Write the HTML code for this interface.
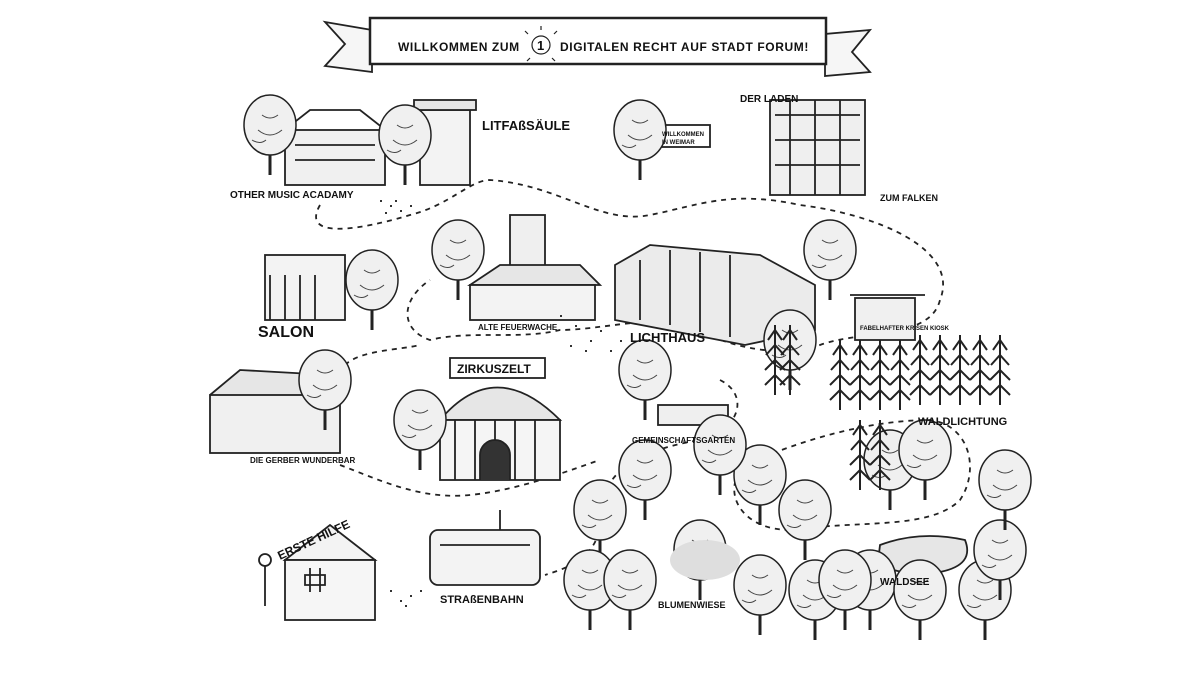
<!DOCTYPE html>
<html><head><meta charset="utf-8"><style>
html,body{margin:0;padding:0;background:#fff;}
svg{display:block;}
text{font-family:"Liberation Sans",sans-serif;font-weight:bold;fill:#111;}
</style></head><body>
<svg width="1200" height="680" viewBox="0 0 1200 680" xmlns="http://www.w3.org/2000/svg">
<defs>
<g id="tree"><path d="M0,0 L0,-30" stroke="#222" stroke-width="3"/><ellipse cx="0" cy="-50" rx="26" ry="30" fill="#f0f0f0" stroke="#222" stroke-width="1.5"/><path d="M-12,-45 q12,10 24,0 M-8,-60 q8,6 16,0 M-18,-35 q8,5 14,0" stroke="#444" fill="none"/></g>
<g id="pine"><path d="M0,0 L0,-70 M-10,-10 L0,-20 L10,-10 M-10,-25 L0,-35 L10,-25 M-9,-40 L0,-50 L9,-40 M-7,-55 L0,-65 L7,-55" stroke="#222" stroke-width="2" fill="none"/></g>
</defs>
<g stroke="#222" stroke-width="1.8" fill="none">
<path d="M325,22 L372,30 L372,72 L325,66 L345,44 Z" fill="#f6f6f6"/>
<path d="M870,30 L825,34 L825,76 L870,72 L852,52 Z" fill="#f6f6f6"/>
<rect x="370" y="18" width="456" height="46" fill="#fff" stroke-width="2.5"/>
<circle cx="541" cy="45" r="9" stroke-width="1.2"/>
<path d="M541,30 v-4 M528,34 l-3,-3 M554,34 l3,-3 M530,58 l-3,3 M552,58 l3,3" stroke-width="1.2"/>
<path d="M320,205 C300,240 360,230 410,215 C450,205 470,180 490,180 C560,185 600,225 650,215 C700,205 730,190 800,205 C880,215 960,250 940,300 C930,340 860,330 820,345 C780,360 720,345 690,325 C650,315 600,330 560,330 C520,340 470,330 430,340 C400,330 400,300 430,280" stroke-dasharray="5,5"/>
<path d="M345,365 C360,350 400,350 420,345 M340,465 C380,480 420,500 470,495 C520,490 570,470 600,460 M720,380 C750,395 740,430 700,440 C640,450 600,470 600,520 C600,560 560,570 545,575" stroke-dasharray="5,5"/>
<path d="M745,465 C800,440 870,420 930,420 C970,425 980,470 960,500 C930,530 860,520 790,530 C740,530 720,490 745,465" stroke-dasharray="5,5"/>
<rect x="285" y="130" width="100" height="55" fill="#f0f0f0"/><path d="M282,132 L310,110 L360,110 L388,132 M295,145 h80 M295,160 h80"/>
<rect x="420" y="110" width="50" height="75" fill="#f3f3f3"/><rect x="414" y="100" width="62" height="10" fill="#e6e6e6"/>
<rect x="658" y="125" width="52" height="22" fill="#fff"/>
<rect x="770" y="100" width="95" height="95" fill="#efefef"/><path d="M775,115 h85 M775,140 h85 M775,165 h85 M790,100 v95 M815,100 v95 M840,100 v95"/>
<rect x="265" y="255" width="80" height="65" fill="#f3f3f3"/><path d="M270,275 v45 M285,275 v45 M300,275 v45 M315,275 v45"/>
<rect x="510" y="215" width="35" height="55" fill="#efefef"/><path d="M470,285 L500,265 L580,265 L600,285 Z" fill="#e6e6e6"/><rect x="470" y="285" width="125" height="35" fill="#f3f3f3"/>
<path d="M615,265 L650,245 L760,255 L815,285 L815,330 L745,345 L615,320 Z" fill="#ebebeb"/><path d="M640,260 v60 M670,250 v75 M700,252 v80 M730,255 v82"/>
<rect x="855" y="298" width="60" height="42" fill="#f0f0f0"/><path d="M850,295 h75"/>
<path d="M210,395 L240,370 L330,375 L345,395" fill="#e6e6e6"/><rect x="210" y="395" width="130" height="58" fill="#f0f0f0"/>
<path d="M440,420 Q495,355 560,420 Z" fill="#e6e6e6"/><rect x="440" y="420" width="120" height="60" fill="#f5f5f5"/><path d="M455,420 v60 M475,420 v60 M495,420 v60 M515,420 v60 M535,420 v60"/><path d="M480,480 v-25 a15,15 0 0 1 30,0 v25" fill="#333"/>
<rect x="450" y="358" width="95" height="20" fill="#fff"/>
<rect x="658" y="405" width="70" height="20" fill="#efefef"/>
<path d="M285,560 L330,525 L375,560 Z" fill="#f3f3f3"/><rect x="285" y="560" width="90" height="60" fill="#f6f6f6"/><path d="M305,575 h20 v10 h-20 z M310,568 v24 M320,568 v24"/>
<circle cx="265" cy="560" r="6"/><path d="M265,566 v40"/>
<rect x="430" y="530" width="110" height="55" rx="8" fill="#f3f3f3"/><path d="M440,545 h90 M500,530 v-20"/>
<path d="M880,545 Q920,530 965,540 Q975,565 940,572 Q900,578 878,562 Z" fill="#e6e6e6"/>
</g>
<g>
<use href="#tree" x="270" y="175"/><use href="#tree" x="405" y="185"/><use href="#tree" x="640" y="180"/>
<use href="#tree" x="372" y="330"/><use href="#tree" x="458" y="300"/><use href="#tree" x="830" y="300"/>
<use href="#tree" x="325" y="430"/><use href="#tree" x="420" y="470"/><use href="#tree" x="645" y="420"/>
<use href="#tree" x="790" y="390"/><use href="#tree" x="600" y="560"/><use href="#tree" x="645" y="520"/>
<use href="#tree" x="590" y="630"/><use href="#tree" x="630" y="630"/><use href="#tree" x="700" y="600"/>
<use href="#tree" x="760" y="525"/><use href="#tree" x="805" y="560"/><use href="#tree" x="760" y="635"/>
<use href="#tree" x="815" y="640"/><use href="#tree" x="870" y="630"/><use href="#tree" x="920" y="640"/>
<use href="#tree" x="985" y="640"/><use href="#tree" x="1000" y="600"/><use href="#tree" x="890" y="510"/>
<use href="#tree" x="925" y="500"/><use href="#tree" x="1005" y="530"/><use href="#tree" x="720" y="495"/>
<use href="#tree" x="845" y="630"/>
<use href="#pine" x="840" y="410"/><use href="#pine" x="860" y="410"/><use href="#pine" x="880" y="410"/><use href="#pine" x="900" y="410"/><use href="#pine" x="920" y="405"/><use href="#pine" x="940" y="405"/><use href="#pine" x="960" y="405"/><use href="#pine" x="980" y="405"/><use href="#pine" x="1000" y="405"/>
<use href="#pine" x="775" y="395"/><use href="#pine" x="790" y="395"/><use href="#pine" x="860" y="490"/><use href="#pine" x="880" y="490"/>
</g>
<g fill="#333">
<path d="M380,200 h2 v2 h-2z M390,205 h2v2h-2z M400,210 h2v2h-2z M395,200h2v2h-2z M410,205h2v2h-2z M385,212h2v2h-2z"/>
<path d="M560,315 h2v2h-2z M575,325h2v2h-2z M590,340h2v2h-2z M600,330h2v2h-2z M610,350h2v2h-2z M585,350h2v2h-2z M570,345h2v2h-2z M620,340h2v2h-2z"/>
<path d="M390,590h2v2h-2z M400,600h2v2h-2z M410,595h2v2h-2z M405,605h2v2h-2z M420,590h2v2h-2z"/>
<ellipse cx="705" cy="560" rx="35" ry="20" fill="#dedede"/>
</g>
<text x="398" y="51" font-size="12" letter-spacing="0.6">WILLKOMMEN ZUM</text>
<text x="537" y="50" font-size="13">1</text>
<text x="560" y="51" font-size="12" letter-spacing="0.6">DIGITALEN RECHT AUF STADT FORUM!</text>
<text x="482" y="130" font-size="13">LITFAßSÄULE</text>
<text x="662" y="136" font-size="6">WILLKOMMEN</text><text x="662" y="144" font-size="6">IN WEIMAR</text>
<text x="740" y="102" font-size="10">DER LADEN</text>
<text x="880" y="201" font-size="9">ZUM FALKEN</text>
<text x="230" y="198" font-size="10">OTHER MUSIC ACADAMY</text>
<text x="258" y="337" font-size="16">SALON</text>
<text x="478" y="330" font-size="8">ALTE FEUERWACHE</text>
<text x="630" y="342" font-size="13">LICHTHAUS</text>
<text x="860" y="330" font-size="6">FABELHAFTER KRISEN KIOSK</text>
<text x="457" y="373" font-size="12">ZIRKUSZELT</text>
<text x="632" y="443" font-size="8">GEMEINSCHAFTSGARTEN</text>
<text x="918" y="425" font-size="11">WALDLICHTUNG</text>
<text x="250" y="463" font-size="8">DIE GERBER WUNDERBAR</text>
<text x="280" y="560" font-size="12" transform="rotate(-25 280 560)">ERSTE HILFE</text>
<text x="440" y="603" font-size="11">STRAßENBAHN</text>
<text x="658" y="608" font-size="9">BLUMENWIESE</text>
<text x="880" y="585" font-size="10">WALDSEE</text>
</svg>
</body></html>
